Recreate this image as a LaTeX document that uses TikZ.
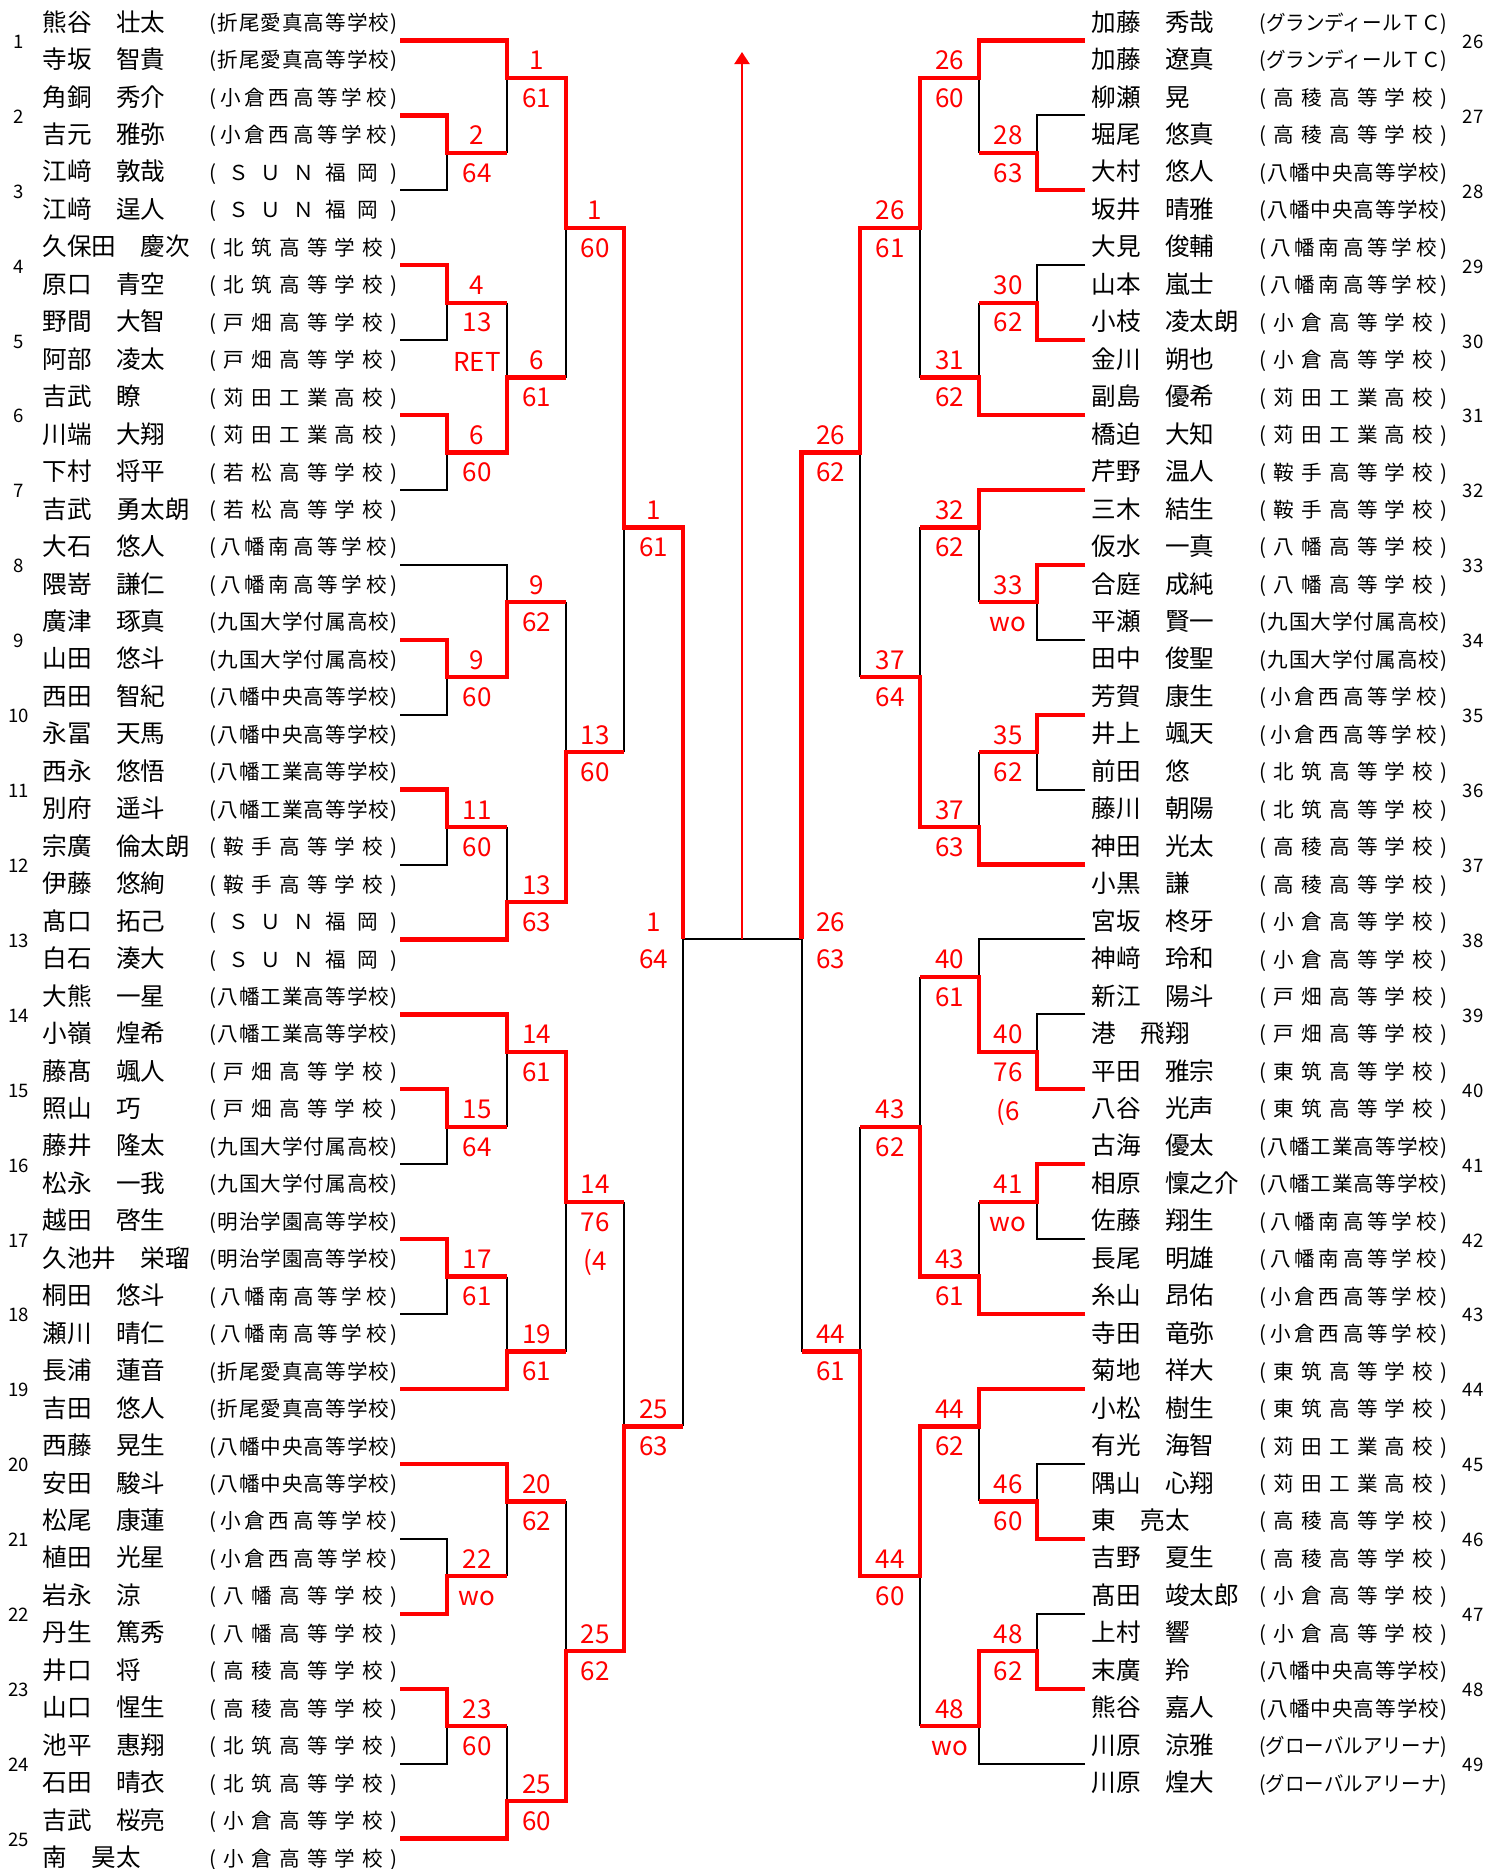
\documentclass[tikz,border=0pt]{standalone}
\usepackage{fontspec}
\setmainfont{Noto Sans CJK JP}
\usepackage{graphicx}
\usetikzlibrary{arrows.meta}
\newlength\schoolW
\setlength\schoolW{94pt}
\newcommand\spreadloop[1]{\ifx\relax#1\else\hfill#1\expandafter\spreadloop\fi}
\newcommand\school[1]{\setbox0=\hbox{(#1)}\ifdim\wd0>\schoolW\resizebox{\schoolW}{\height}{(#1)}\else\makebox[\schoolW][s]{(\spreadloop#1\relax\hfill)}\fi}
\newcommand\fname{\fontsize{12.3pt}{14pt}\selectfont}
\newcommand\fschool{\fontsize{10.3pt}{12pt}\selectfont}
\newcommand\fnum{\fontsize{9.3pt}{11pt}\selectfont}
\newcommand\flab{\fontsize{13pt}{15pt}\selectfont}
% column positions (px)
\def\La{400}\def\Lb{447}\def\Lc{507}\def\Ld{566}\def\Le{624}\def\Lf{683}
\def\Ra{1085}\def\Rb{1037}\def\Rc{979}\def\Rd{920}\def\Re{860}\def\Rf{801.6}
\def\Cx{742}
\tikzset{
  nm/.style={font=\fname, inner sep=0pt, anchor=base west, yshift=-4.7pt},
  sc/.style={font=\fschool, inner sep=0pt, anchor=base west, yshift=-4.4pt},
  en/.style={font=\fnum, inner sep=0pt, anchor=base, yshift=-3.95pt},
  lw/.style={font=\flab, text=red, inner sep=0pt, anchor=base, yshift=4pt},
  ls/.style={font=\flab, text=red, inner sep=0pt, anchor=base, yshift=-14.65pt},
  lt/.style={font=\flab, text=red, inner sep=0pt, anchor=base, yshift=-34.2pt},
  rl/.style={draw=red, line width=2.15pt, line join=miter},
  bl/.style={draw=black, line width=1pt},
}
\newcommand\entryL[4]{%
  \node[nm] (L#1a) at (42,{2*#1-1.5}) {#2};
  \node[nm] (L#1b) at (42,{2*#1-0.5}) {#3};
  \node[sc] (S#1a) at (209,{2*#1-1.5}) {\school{#4}};
  \node[sc] (S#1b) at (209,{2*#1-0.5}) {\school{#4}};
  \node[en] (E#1) at (19,{2*#1-1}) {#1};
}
\newcommand\entryR[5]{%
  \node[nm] (L#1a) at (1091,{2*#2-1.5}) {#3};
  \node[nm] (L#1b) at (1091,{2*#2-0.5}) {#4};
  \node[sc] (S#1a) at (1259,{2*#2-1.5}) {\school{#5}};
  \node[sc] (S#1b) at (1259,{2*#2-0.5}) {\school{#5}};
  \node[en] (E#1) at (1473,{2*#2-1}) {#1};
}
\newcommand\lab[4]{\node[lw] at (#1,#2) {#3}; \node[ls] at (#1,#2) {#4};}
\newcommand\labt[5]{\node[lw] at (#1,#2) {#3}; \node[ls] at (#1,#2) {#4}; \node[lt] at (#1,#2) {#5};}
\begin{document}
\begin{tikzpicture}[x=0.5pt, y=-18.73pt]
\useasboundingbox (0,-0.0793) rectangle (1504,49.8138);
\fill[white] (0,-0.0793) rectangle (1504,49.8138);

% ---------- left entries ----------
\entryL{1}{熊谷　壮太}{寺坂　智貴}{折尾愛真高等学校}
\entryL{2}{角銅　秀介}{吉元　雅弥}{小倉西高等学校}
\entryL{3}{江﨑　敦哉}{江﨑　逞人}{ＳＵＮ福岡}
\entryL{4}{久保田　慶次}{原口　青空}{北筑高等学校}
\entryL{5}{野間　大智}{阿部　凌太}{戸畑高等学校}
\entryL{6}{吉武　瞭}{川端　大翔}{苅田工業高校}
\entryL{7}{下村　将平}{吉武　勇太朗}{若松高等学校}
\entryL{8}{大石　悠人}{隈嵜　謙仁}{八幡南高等学校}
\entryL{9}{廣津　琢真}{山田　悠斗}{九国大学付属高校}
\entryL{10}{西田　智紀}{永冨　天馬}{八幡中央高等学校}
\entryL{11}{西永　悠悟}{別府　遥斗}{八幡工業高等学校}
\entryL{12}{宗廣　倫太朗}{伊藤　悠絢}{鞍手高等学校}
\entryL{13}{髙口　拓己}{白石　湊大}{ＳＵＮ福岡}
\entryL{14}{大熊　一星}{小嶺　煌希}{八幡工業高等学校}
\entryL{15}{藤髙　颯人}{照山　巧}{戸畑高等学校}
\entryL{16}{藤井　隆太}{松永　一我}{九国大学付属高校}
\entryL{17}{越田　啓生}{久池井　栄瑠}{明治学園高等学校}
\entryL{18}{桐田　悠斗}{瀬川　晴仁}{八幡南高等学校}
\entryL{19}{長浦　蓮音}{吉田　悠人}{折尾愛真高等学校}
\entryL{20}{西藤　晃生}{安田　駿斗}{八幡中央高等学校}
\entryL{21}{松尾　康蓮}{植田　光星}{小倉西高等学校}
\entryL{22}{岩永　涼}{丹生　篤秀}{八幡高等学校}
\entryL{23}{井口　将}{山口　惺生}{高稜高等学校}
\entryL{24}{池平　惠翔}{石田　晴衣}{北筑高等学校}
\entryL{25}{吉武　桜亮}{南　昊太}{小倉高等学校}

% ---------- right entries ----------
\entryR{26}{1}{加藤　秀哉}{加藤　遼真}{グランディールＴＣ}
\entryR{27}{2}{柳瀬　晃}{堀尾　悠真}{高稜高等学校}
\entryR{28}{3}{大村　悠人}{坂井　晴雅}{八幡中央高等学校}
\entryR{29}{4}{大見　俊輔}{山本　嵐士}{八幡南高等学校}
\entryR{30}{5}{小枝　凌太朗}{金川　朔也}{小倉高等学校}
\entryR{31}{6}{副島　優希}{橋迫　大知}{苅田工業高校}
\entryR{32}{7}{芹野　温人}{三木　結生}{鞍手高等学校}
\entryR{33}{8}{仮水　一真}{合庭　成純}{八幡高等学校}
\entryR{34}{9}{平瀬　賢一}{田中　俊聖}{九国大学付属高校}
\entryR{35}{10}{芳賀　康生}{井上　颯天}{小倉西高等学校}
\entryR{36}{11}{前田　悠}{藤川　朝陽}{北筑高等学校}
\entryR{37}{12}{神田　光太}{小黒　謙}{高稜高等学校}
\entryR{38}{13}{宮坂　柊牙}{神﨑　玲和}{小倉高等学校}
\entryR{39}{14}{新江　陽斗}{港　飛翔}{戸畑高等学校}
\entryR{40}{15}{平田　雅宗}{八谷　光声}{東筑高等学校}
\entryR{41}{16}{古海　優太}{相原　懍之介}{八幡工業高等学校}
\entryR{42}{17}{佐藤　翔生}{長尾　明雄}{八幡南高等学校}
\entryR{43}{18}{糸山　昂佑}{寺田　竜弥}{小倉西高等学校}
\entryR{44}{19}{菊地　祥大}{小松　樹生}{東筑高等学校}
\entryR{45}{20}{有光　海智}{隅山　心翔}{苅田工業高校}
\entryR{46}{21}{東　亮太}{吉野　夏生}{高稜高等学校}
\entryR{47}{22}{髙田　竣太郎}{上村　響}{小倉高等学校}
\entryR{48}{23}{末廣　羚}{熊谷　嘉人}{八幡中央高等学校}
\entryR{49}{24}{川原　涼雅}{川原　煌大}{グローバルアリーナ}

% ---------- black lines (left) ----------
\draw[bl] (\La,5) -| (\Lb,4);
\draw[bl] (\La,9) -| (\Lb,8);
\draw[bl] (\La,13) -| (\Lb,12);
\draw[bl] (\La,15) -| (\Lc,16);
\draw[bl] (\La,19) -| (\Lb,18);
\draw[bl] (\La,23) -| (\Lb,22);
\draw[bl] (\La,31) -| (\Lb,30);
\draw[bl] (\La,35) -| (\Lb,34);
\draw[bl] (\La,41) -| (\Lb,42);
\draw[bl] (\La,47) -| (\Lb,46);
\draw[bl] (\Lc,2)--(\Lc,4) (\Lc,8)--(\Lc,10) (\Lc,22)--(\Lc,24) (\Lc,28)--(\Lc,30)
          (\Lc,34)--(\Lc,36) (\Lc,40)--(\Lc,42) (\Lc,46)--(\Lc,48);
\draw[bl] (\Ld,6)--(\Ld,10) (\Ld,16)--(\Ld,20) (\Ld,32)--(\Ld,36) (\Ld,40)--(\Ld,44);
\draw[bl] (\Le,14)--(\Le,20) (\Le,32)--(\Le,38);
\draw[bl] (\Lf,25)--(\Lf,38);
\coordinate (cl) at (\Lf,25);
\coordinate (cr) at (\Rf,25);
\coordinate (cc) at (\Cx,25);
\coordinate (top) at (\Cx,1.309);
\draw[bl] (cl) -- (cr);

% ---------- black lines (right) ----------
\draw[bl] (\Ra,3) -| (\Rb,4);
\draw[bl] (\Ra,7) -| (\Rb,8);
\draw[bl] (\Ra,17) -| (\Rb,16);
\draw[bl] (\Ra,21) -| (\Rb,20);
\draw[bl] (\Ra,25) -| (\Rc,26);
\draw[bl] (\Ra,27) -| (\Rb,28);
\draw[bl] (\Ra,33) -| (\Rb,32);
\draw[bl] (\Ra,39) -| (\Rb,40);
\draw[bl] (\Ra,43) -| (\Rb,44);
\draw[bl] (\Ra,47) -| (\Rc,46);
\draw[bl] (\Rc,2)--(\Rc,4) (\Rc,8)--(\Rc,10) (\Rc,14)--(\Rc,16) (\Rc,20)--(\Rc,22)
          (\Rc,32)--(\Rc,34) (\Rc,38)--(\Rc,40);
\draw[bl] (\Rd,6)--(\Rd,10) (\Rd,14)--(\Rd,18) (\Rd,26)--(\Rd,30) (\Rd,42)--(\Rd,46);
\draw[bl] (\Re,12)--(\Re,18) (\Re,30)--(\Re,36);
\draw[bl] (\Rf,25)--(\Rf,36);

% ---------- red trails (left) ----------
\draw[rl] (\La,1) -| (\Lc,2) -| (\Ld,6) -| (\Le,14) -| (\Lf,25);
\draw[rl] (\La,3) -| (\Lb,4) -- (\Lc,4);
\draw[rl] (\La,7) -| (\Lb,8) -- (\Lc,8);
\draw[rl] (\La,11) -| (\Lb,12) -| (\Lc,10) -- (\Ld,10);
\draw[rl] (\La,17) -| (\Lb,18) -| (\Lc,16) -- (\Ld,16);
\draw[rl] (\La,21) -| (\Lb,22) -- (\Lc,22);
\draw[rl] (\La,25) -| (\Lc,24) -| (\Ld,20) -- (\Le,20);
\draw[rl] (\La,27) -| (\Lc,28) -| (\Ld,32) -- (\Le,32);
\draw[rl] (\La,29) -| (\Lb,30) -- (\Lc,30);
\draw[rl] (\La,33) -| (\Lb,34) -- (\Lc,34);
\draw[rl] (\La,37) -| (\Lc,36) -- (\Ld,36);
\draw[rl] (\La,39) -| (\Lc,40) -- (\Ld,40);
\draw[rl] (\La,43) -| (\Lb,42) -- (\Lc,42);
\draw[rl] (\La,45) -| (\Lb,46) -- (\Lc,46);
\draw[rl] (\La,49) -| (\Lc,48) -| (\Ld,44) -| (\Le,38) -- (\Lf,38);

% ---------- red trails (right) ----------
\draw[rl] (\Ra,1) -| (\Rc,2) -| (\Rd,6) -| (\Re,12) -| (\Rf,25);
\draw[rl] (\Ra,5) -| (\Rb,4) -- (\Rc,4);
\draw[rl] (\Ra,9) -| (\Rb,8) -- (\Rc,8);
\draw[rl] (\Ra,11) -| (\Rc,10) -- (\Rd,10);
\draw[rl] (\Ra,13) -| (\Rc,14) -- (\Rd,14);
\draw[rl] (\Ra,15) -| (\Rb,16) -- (\Rc,16);
\draw[rl] (\Ra,19) -| (\Rb,20) -- (\Rc,20);
\draw[rl] (\Ra,23) -| (\Rc,22) -| (\Rd,18) -- (\Re,18);
\draw[rl] (\Ra,29) -| (\Rb,28) -| (\Rc,26) -- (\Rd,26);
\draw[rl] (\Ra,31) -| (\Rb,32) -- (\Rc,32);
\draw[rl] (\Ra,35) -| (\Rc,34) -| (\Rd,30) -- (\Re,30);
\draw[rl] (\Ra,37) -| (\Rc,38) -| (\Rd,42) -| (\Re,36) -- (\Rf,36);
\draw[rl] (\Ra,41) -| (\Rb,40) -- (\Rc,40);
\draw[rl] (\Ra,45) -| (\Rb,44) -| (\Rc,46) -- (\Rd,46);

% ---------- arrow ----------
\draw[red, line width=1.1pt, -{Triangle[length=6pt,width=7.5pt]}] (cc) -- (top);

% ---------- labels (left) ----------
\def\ca{477}\def\cb{536.5}\def\cd{595}\def\ce{653.5}
\lab{\ca}{4}{2}{64}
\labt{\ca}{8}{4}{13}{RET}
\lab{\ca}{12}{6}{60}
\lab{\ca}{18}{9}{60}
\lab{\ca}{22}{11}{60}
\lab{\ca}{30}{15}{64}
\lab{\ca}{34}{17}{61}
\lab{\ca}{42}{22}{wo}
\lab{\ca}{46}{23}{60}
\lab{\cb}{2}{1}{61}
\lab{\cb}{10}{6}{61}
\lab{\cb}{16}{9}{62}
\lab{\cb}{24}{13}{63}
\lab{\cb}{28}{14}{61}
\lab{\cb}{36}{19}{61}
\lab{\cb}{40}{20}{62}
\lab{\cb}{48}{25}{60}
\lab{\cd}{6}{1}{60}
\lab{\cd}{20}{13}{60}
\labt{\cd}{32}{14}{76}{(4}
\lab{\cd}{44}{25}{62}
\lab{\ce}{14}{1}{61}
\lab{\ce}{38}{25}{63}
\lab{\ce}{25}{1}{64}

% ---------- labels (right) ----------
\def\cra{1008}\def\crb{949.5}\def\crd{890}\def\cre{830.8}
\lab{\cra}{4}{28}{63}
\lab{\cra}{8}{30}{62}
\lab{\cra}{16}{33}{wo}
\lab{\cra}{20}{35}{62}
\labt{\cra}{28}{40}{76}{(6}
\lab{\cra}{32}{41}{wo}
\lab{\cra}{40}{46}{60}
\lab{\cra}{44}{48}{62}
\lab{\crb}{2}{26}{60}
\lab{\crb}{10}{31}{62}
\lab{\crb}{14}{32}{62}
\lab{\crb}{22}{37}{63}
\lab{\crb}{26}{40}{61}
\lab{\crb}{34}{43}{61}
\lab{\crb}{38}{44}{62}
\lab{\crb}{46}{48}{wo}
\lab{\crd}{6}{26}{61}
\lab{\crd}{18}{37}{64}
\lab{\crd}{30}{43}{62}
\lab{\crd}{42}{44}{60}
\lab{\cre}{12}{26}{62}
\lab{\cre}{36}{44}{61}
\lab{\cre}{25}{26}{63}
\end{tikzpicture}
\end{document}
